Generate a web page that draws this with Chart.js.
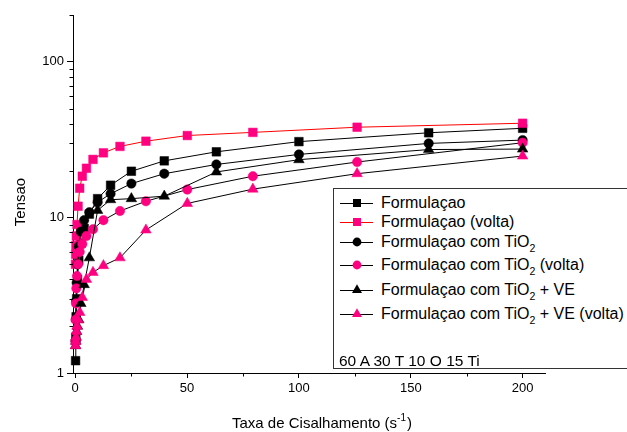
<!DOCTYPE html>
<html><head><meta charset="utf-8">
<script src="https://cdn.jsdelivr.net/npm/chart.js@4/dist/chart.umd.min.js"></script>
<style>
html,body{margin:0;padding:0;background:#fff;}
#wrap{position:relative;width:627px;height:432px;overflow:hidden;}
#c{position:absolute;left:0;top:0;}
#legend{position:absolute;left:333px;top:188px;width:320px;height:181px;border:1px solid #333;box-sizing:border-box;font-family:"Liberation Sans",Arial,sans-serif;font-size:16px;color:#000;background:#fff;}
.row{position:absolute;left:0;height:0;}
.row svg{position:absolute;left:5px;top:-8px;}
.row span{position:absolute;left:47px;top:-9px;white-space:nowrap;line-height:18px;}
.row sub{font-size:10.5px;vertical-align:-5px;line-height:0;}
#note{position:absolute;left:5px;top:163px;white-space:nowrap;line-height:18px;font-size:15.5px;}
</style>
</head><body>
<div id="wrap">
<canvas id="c" width="627" height="432"></canvas>
<div id="legend"></div>
</div>
<script>
// shear rates (s^-1)
const xIda   = [0.158, 0.251, 0.398, 0.631, 1, 1.58, 2.51, 3.98, 6.31, 10, 15.8, 25.1, 39.8, 63.1, 100, 158, 200];
const xVolta = [0.126, 0.2, 0.316, 0.501, 0.794, 1.26, 2, 3.16, 5.01, 7.94, 12.6, 20, 31.6, 50.1, 79.4, 126, 200];
// stress values
const formulacao      = [1.2, 1.7, 2.3, 3.0, 4.0, 5.3, 6.8, 8.5, 10.5, 13.2, 16.1, 19.8, 23.1, 26.4, 30.7, 35.0, 37.4];
const formulacaoVolta = [5.0, 5.8, 6.6, 7.6, 9.0, 11.8, 15.4, 18.4, 20.7, 23.6, 26.0, 28.6, 30.9, 33.6, 35.2, 38.0, 40.3];
const tio2            = [1.6, 2.2, 2.9, 3.8, 5.0, 6.5, 8.1, 9.6, 10.8, 12.5, 14.2, 16.5, 19.1, 21.9, 25.4, 29.9, 31.4];
const tio2Volta       = [1.6, 2.2, 2.8, 3.5, 4.2, 5.0, 6.0, 6.75, 7.6, 8.4, 9.6, 11.0, 12.7, 15.1, 18.4, 22.7, 30.2];
const tio2Ve          = [1.5, 1.6, 1.7, 1.85, 2.0, 2.2, 2.8, 3.7, 5.5, 11.1, 13.0, 13.2, 13.7, 19.6, 23.5, 27.3, 27.5];
const tio2VeVolta     = [1.5, 1.6, 1.7, 1.85, 2.0, 2.2, 2.45, 3.06, 4.0, 4.43, 4.9, 5.5, 8.3, 12.3, 15.2, 19.1, 24.8];
// labels
const seriesLabels = ['Formulaçao', 'Formulaçao (volta)', 'Formulaçao com TiO2', 'Formulaçao com TiO2 (volta)', 'Formulaçao com TiO2 + VE', 'Formulaçao com TiO2 + VE (volta)'];
const noteText = '60 A 30 T 10 O 15 Ti';
const xTickValues = [0, 50, 100, 150, 200];
const xMinorValues = [25, 75, 125, 175];
const yTickValues = [1, 10, 100];
const xTitleMain = 'Taxa de Cisalhamento (s';
const xTitleSup = '-1';
const xTitleEnd = ')';
const yTitle = 'Tensao';

const BLACK = '#000000', PINK = '#FF0080', RED = '#FF0000';
const xs = [xIda, xVolta, xIda, xVolta, xIda, xVolta];
const ys = [formulacao, formulacaoVolta, tio2, tio2Volta, tio2Ve, tio2VeVolta];
const styles = [
  {ps:'rect', r:6.1, fill:BLACK, line:BLACK},
  {ps:'rect', r:6.1, fill:PINK, line:RED},
  {ps:'circle', r:4.7, fill:BLACK, line:BLACK},
  {ps:'circle', r:4.7, fill:PINK, line:BLACK},
  {ps:'triangle', r:6.1, fill:BLACK, line:BLACK},
  {ps:'triangle', r:6.1, fill:PINK, line:BLACK}
];
const datasets = seriesLabels.map((lab, i) => ({
  label: lab,
  data: xs[i].map((x, j) => ({x: x, y: ys[i][j]})),
  borderColor: styles[i].line,
  borderWidth: 1,
  backgroundColor: styles[i].fill,
  pointStyle: styles[i].ps,
  pointRadius: styles[i].r,
  pointBackgroundColor: styles[i].fill,
  pointBorderColor: styles[i].fill,
  pointBorderWidth: 0.5,
  tension: 0,
  clip: false,
  order: 6 - i
}));

const FONT = '"Liberation Sans", Arial, sans-serif';

const axisExtras = {
  id: 'axisExtras',
  afterDraw(chart) {
    const ctx = chart.ctx, a = chart.chartArea;
    const xs_ = chart.scales.x, ys_ = chart.scales.y;
    ctx.save();
    ctx.strokeStyle = '#000';
    ctx.lineWidth = 1;
    ctx.beginPath();
    for (let d = 1; d <= 100; d *= 10) {
      for (let m = 2; m <= 9; m++) {
        const v = d * m;
        if (v > ys_.max) break;
        const py = Math.round(ys_.getPixelForValue(v)) + 0.5;
        ctx.moveTo(a.left, py); ctx.lineTo(a.left - 3.5, py);
      }
    }
    xMinorValues.forEach(v => {
      const px = Math.round(xs_.getPixelForValue(v)) + 0.5;
      ctx.moveTo(px, a.bottom); ctx.lineTo(px, a.bottom + 3.5);
    });
    ctx.stroke();
    ctx.fillStyle = '#000';
    // x axis title with superscript
    const big = '15px ' + FONT, small = '10px ' + FONT;
    ctx.textBaseline = 'alphabetic';
    ctx.textAlign = 'left';
    ctx.font = big; const w1 = ctx.measureText(xTitleMain).width, w3 = ctx.measureText(xTitleEnd).width;
    ctx.font = small; const w2 = ctx.measureText(xTitleSup).width;
    let tx = 322 - (w1 + w2 + 1 + w3) / 2;
    const ty = 428;
    ctx.font = big; ctx.fillText(xTitleMain, tx, ty); tx += w1;
    ctx.font = small; ctx.fillText(xTitleSup, tx, ty - 7); tx += w2 + 1;
    ctx.font = big; ctx.fillText(xTitleEnd, tx, ty);
    // y axis title
    ctx.font = big;
    ctx.textAlign = 'center';
    ctx.textBaseline = 'middle';
    ctx.translate(21, 202);
    ctx.rotate(-Math.PI / 2);
    ctx.fillText(yTitle, 0, 0);
    ctx.restore();
  }
};

new Chart(document.getElementById('c'), {
  type: 'line',
  data: {datasets: datasets},
  options: {
    responsive: false,
    animation: false,
    layout: {padding: {top: 15, right: 82, left: 0, bottom: 0}},
    plugins: {legend: {display: false}, tooltip: {enabled: false}},
    scales: {
      x: {
        type: 'linear', position: 'bottom', min: -1, max: 210,
        afterBuildTicks: s => { s.ticks = xTickValues.map(v => ({value: v})); },
        afterFit: s => { s.height = 59; },
        ticks: {font: {family: FONT, size: 13}, color: '#000', padding: 3, maxRotation: 0, autoSkip: false},
        grid: {drawOnChartArea: false, drawTicks: true, tickLength: 5, color: '#000', tickColor: '#000'},
        border: {display: true, color: '#000', width: 1},
        title: {display: false}
      },
      y: {
        type: 'logarithmic', position: 'left', min: 1, max: 200,
        afterBuildTicks: s => { s.ticks = yTickValues.map(v => ({value: v})); },
        afterFit: s => { s.width = 73; },
        ticks: {font: {family: FONT, size: 13}, color: '#000', padding: 3, autoSkip: false, callback: v => String(v)},
        grid: {drawOnChartArea: false, drawTicks: true, tickLength: 6, color: '#000', tickColor: '#000'},
        border: {display: true, color: '#000', width: 1},
        title: {display: false}
      }
    }
  },
  plugins: [axisExtras]
});

// legend (HTML, so TiO2 can have a real subscript)
const rowTops = [13.7, 32.7, 53, 76.3, 101, 125.3];
const legend = document.getElementById('legend');
function symbolSvg(st) {
  let m = '';
  const cx = 18, cy = 8;
  if (st.ps === 'rect') m = `<rect x="${cx-4}" y="${cy-4}" width="8" height="8" fill="${st.fill}"/>`;
  else if (st.ps === 'circle') m = `<circle cx="${cx}" cy="${cy}" r="4.4" fill="${st.fill}"/>`;
  else { const r = 5.8; m = `<polygon points="${cx},${cy-r} ${cx+r*0.866},${cy+r/2} ${cx-r*0.866},${cy+r/2}" fill="${st.fill}"/>`; }
  return `<svg width="36" height="16" viewBox="0 0 36 16"><line x1="1" y1="8.5" x2="34" y2="8.5" stroke="${st.line}" stroke-width="1"/>${m}</svg>`;
}
seriesLabels.forEach((lab, i) => {
  const row = document.createElement('div');
  row.className = 'row';
  row.style.top = rowTops[i] + 'px';
  const html = lab.replace('TiO2', 'TiO<sub>2</sub>');
  row.innerHTML = symbolSvg(styles[i]) + `<span>${html}</span>`;
  legend.appendChild(row);
});
const note = document.createElement('div');
note.id = 'note';
note.textContent = noteText;
legend.appendChild(note);
</script>
</body></html>
